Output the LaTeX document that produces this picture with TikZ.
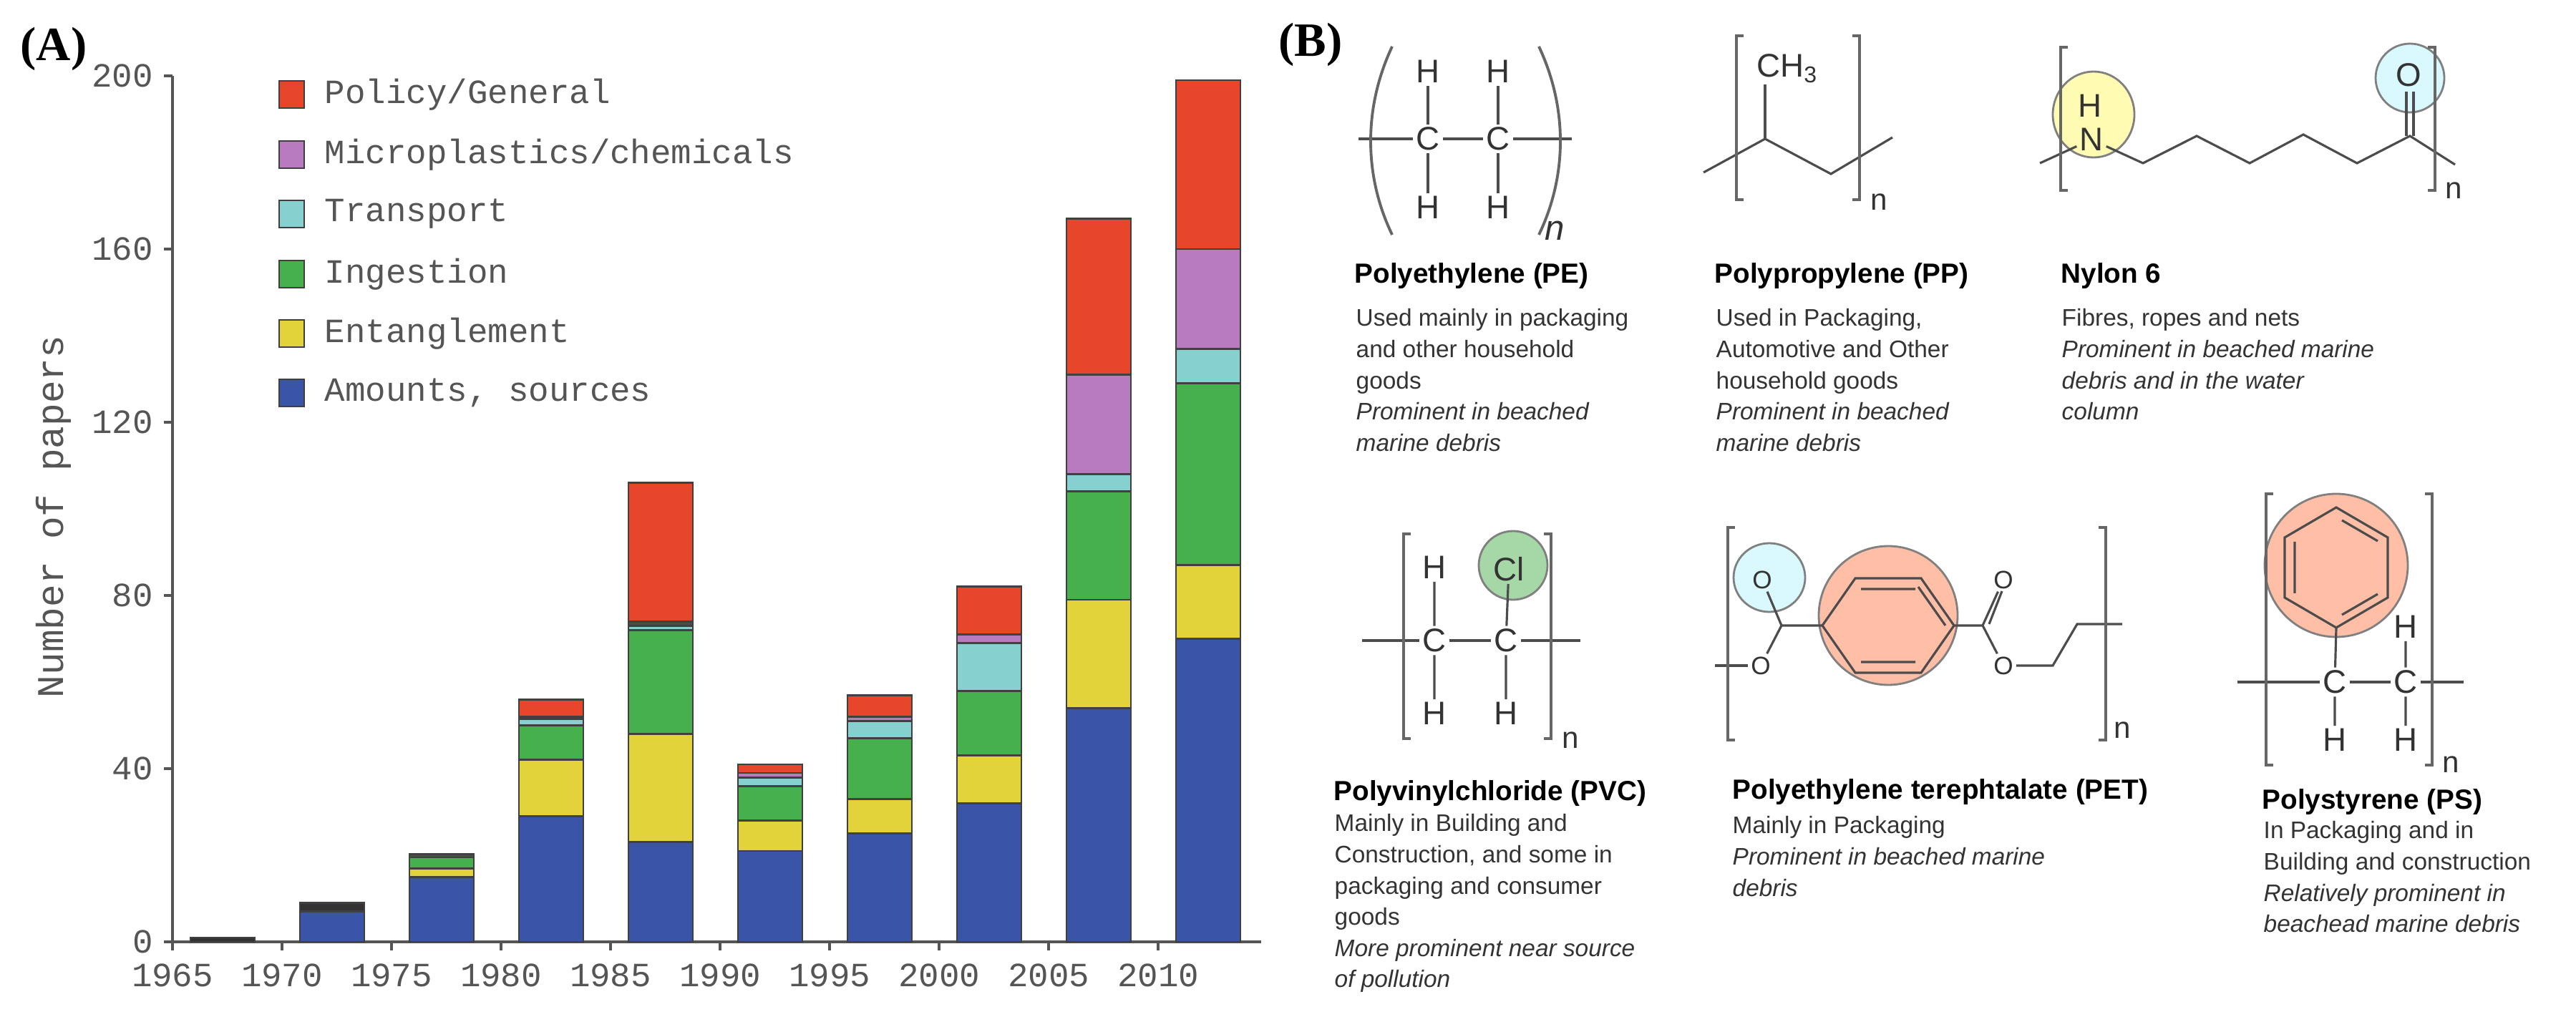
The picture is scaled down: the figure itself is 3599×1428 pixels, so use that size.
\documentclass[tikz,border=0pt]{standalone}
\usepackage{fontspec}
\setmainfont{Liberation Sans}
\newfontfamily\monof{Liberation Mono}
\newfontfamily\seriff{Liberation Serif}
\definecolor{cred}{HTML}{E8462A}
\definecolor{cpur}{HTML}{B97BC0}
\definecolor{ccyan}{HTML}{86D0D0}
\definecolor{cgreen}{HTML}{45B04C}
\definecolor{cyel}{HTML}{E2D33B}
\definecolor{cblue}{HTML}{3A55A8}
\definecolor{txt}{HTML}{555555}
\newcommand\seg[4]{\fill[#4,draw=black!75,line width=0.8pt] ({266+153*#1},{1316-6.05*#2}) rectangle ({356+153*#1},{1316-6.05*#3});}
\tikzset{
 tick/.style={font=\monof\fontsize{13.5}{15}\selectfont,text=txt},
 leg/.style={font=\monof\fontsize{13.5}{15}\selectfont,text=txt,anchor=west,inner sep=0},
 atom/.style={font=\fontsize{13}{14}\selectfont,text=black!80,inner sep=1pt},
 sm/.style={font=\fontsize{10}{11}\selectfont,text=black!80,inner sep=1pt},
 bond/.style={draw=black!70,line width=0.9pt},
 brk/.style={draw=black!60,line width=1.1pt},
 ttl/.style={font=\bfseries\fontsize{11}{13}\selectfont,anchor=west,inner sep=0},
 desc/.style={font=\fontsize{9.5}{12.4}\selectfont,text=black!80,anchor=north west,align=left,inner sep=0},
}
\begin{document}
\begin{tikzpicture}[x=0.01cm,y=-0.01cm]
\useasboundingbox (0,0) rectangle (3599,1428);
% ---------- panel A ----------
\node[font=\seriff\bfseries\fontsize{19}{20}\selectfont] (la) at (75,68) {(A)};
\draw[txt,line width=1pt] (241,1316) -- (241,106);
\draw[txt,line width=1pt] (241,1316) -- (1762,1316);
\foreach \v in {0,40,80,120,160,200}{
 \draw[txt,line width=1pt] (229,{1316-6.05*\v}) -- (241,{1316-6.05*\v});
 \node[tick,anchor=east] (yt\v) at (226,{1316-6.05*\v}) {\v};}
\foreach \k in {0,...,9}{
 \draw[txt,line width=1pt] ({241+153*\k},1316) -- ({241+153*\k},1328);
 \pgfmathtruncatemacro\yr{1965+5*\k}
 \node[tick] (xt\k) at ({241+153*\k},1363) {\yr};}
\node[font=\monof\fontsize{15}{16}\selectfont,text=txt,rotate=90] (ylab) at (75,722) {Number of papers};
% bars
\seg{0}{0}{1}{black!80}
\seg{1}{0}{7}{cblue}\seg{1}{7}{9}{black!80}
\seg{2}{0}{15}{cblue}\seg{2}{15}{17}{cyel}\seg{2}{17}{19.5}{cgreen}\seg{2}{19.5}{20.3}{black!70}
\seg{3}{0}{29}{cblue}\seg{3}{29}{42}{cyel}\seg{3}{42}{50}{cgreen}\seg{3}{50}{51.5}{ccyan}\seg{3}{51.5}{52}{cpur}\seg{3}{52}{56}{cred}
\seg{4}{0}{23}{cblue}\seg{4}{23}{48}{cyel}\seg{4}{48}{72}{cgreen}\seg{4}{72}{73}{ccyan}\seg{4}{73}{74}{black!70}\seg{4}{74}{106}{cred}
\seg{5}{0}{21}{cblue}\seg{5}{21}{28}{cyel}\seg{5}{28}{36}{cgreen}\seg{5}{36}{38}{ccyan}\seg{5}{38}{39}{cpur}\seg{5}{39}{41}{cred}
\seg{6}{0}{25}{cblue}\seg{6}{25}{33}{cyel}\seg{6}{33}{47}{cgreen}\seg{6}{47}{51}{ccyan}\seg{6}{51}{52}{cpur}\seg{6}{52}{57}{cred}
\seg{7}{0}{32}{cblue}\seg{7}{32}{43}{cyel}\seg{7}{43}{58}{cgreen}\seg{7}{58}{69}{ccyan}\seg{7}{69}{71}{cpur}\seg{7}{71}{82}{cred}
\seg{8}{0}{54}{cblue}\seg{8}{54}{79}{cyel}\seg{8}{79}{104}{cgreen}\seg{8}{104}{108}{ccyan}\seg{8}{108}{131}{cpur}\seg{8}{131}{167}{cred}
\seg{9}{0}{70}{cblue}\seg{9}{70}{87}{cyel}\seg{9}{87}{129}{cgreen}\seg{9}{129}{137}{ccyan}\seg{9}{137}{160}{cpur}\seg{9}{160}{199}{cred}
% legend
\foreach \c/\t/\y [count=\i] in {cred/Policy\slash General/132,cpur/Microplastics\slash chemicals/216,ccyan/Transport/299,cgreen/Ingestion/383,cyel/Entanglement/466,cblue/{Amounts, sources}/549}{
 \fill[\c,draw=black!75,line width=0.8pt] (390,\y-19) rectangle (425,\y+19);
 \node[leg] (lg\i) at (453,\y) {\t};}
% ---------- panel B ----------
\node[font=\seriff\bfseries\fontsize{19}{20}\selectfont] (lb) at (1831,62) {(B)};
% PE
\node[atom] (pc1) at (1995,194) {C}; \node[atom] (pc2) at (2093,194) {C};
\node[atom] (ph1) at (1995,100) {H}; \node[atom] (ph2) at (2093,100) {H};
\node[atom] (ph3) at (1995,290) {H}; \node[atom] (ph4) at (2093,290) {H};
\coordinate (pl) at (1898,194); \coordinate (pr) at (2196,194);
\draw[bond] (pl) -- (pc1) -- (pc2) -- (pr);
\draw[bond] (pc1) -- (ph1) (pc1) -- (ph3) (pc2) -- (ph2) (pc2) -- (ph4);
\draw[brk] (1945,65) .. controls (1905,150) and (1905,245) .. (1945,328);
\draw[brk] (2150,65) .. controls (2190,150) and (2190,245) .. (2150,328);
\node[font=\itshape\fontsize{14}{15}\selectfont,text=black!80] (pn) at (2172,322) {n};
\node[ttl] (tpe) at (1892,386) {Polyethylene (PE)};
\node[desc] (dpe) at (1894,431) {Used mainly in packaging\\and other household\\goods\\\textit{Prominent in beached}\\\textit{marine debris}};
% PP
\node[atom] (ch3) at (2497,96) {CH\textsubscript{3}};
\coordinate (z1) at (2380,241); \coordinate (z2) at (2466,194); \coordinate (z3) at (2558,243); \coordinate (z4) at (2644,192);
\draw[bond] (z1) -- (z2) -- (z3) -- (z4);
\draw[bond] (z2) -- (2466,118);
\draw[brk] (2436,50) -- (2426,50) -- (2426,279) -- (2436,279);
\draw[brk] (2588,50) -- (2598,50) -- (2598,279) -- (2588,279);
\node[sm,font=\fontsize{12}{13}\selectfont] (ppn) at (2625,282) {n};
\node[ttl] (tpp) at (2395,386) {Polypropylene (PP)};
\node[desc] (dpp) at (2397,431) {Used in Packaging,\\Automotive and Other\\household goods\\\textit{Prominent in beached}\\\textit{marine debris}};
% Nylon 6
\fill[yellow!30,draw=black!50,line width=0.8pt] (2925,160) ellipse (57 and 60);
\fill[blue!15!cyan!15,draw=black!50,line width=0.8pt] (3367,109) circle (48);
\node[atom] (nh) at (2920,148) {H};
\node[atom] (nn) at (2922,195) {N};
\node[atom] (no) at (3365,105) {O};
\draw[bond] (2850,228) -- (nn) -- (2994,228) -- (3069,190) -- (3143,228) -- (3218,188) -- (3293,228) -- (3367,190) -- (3430,230);
\draw[bond] (3362,190) -- (3362,128); \draw[bond] (3372,190) -- (3372,128);
\draw[brk] (2889,66) -- (2879,66) -- (2879,266) -- (2889,266);
\draw[brk] (3392,66) -- (3402,66) -- (3402,266) -- (3392,266);
\node[sm,font=\fontsize{12}{13}\selectfont] (nyn) at (3428,266) {n};
\node[ttl] (tny) at (2879,386) {Nylon 6};
\node[desc] (dny) at (2880,431) {Fibres, ropes and nets\\\textit{Prominent in beached marine}\\\textit{debris and in the water}\\\textit{column}};
% PVC
\fill[green!55!black!35,draw=black!50,line width=0.8pt] (2114,790) circle (48);
\node[atom] (vc1) at (2004,895) {C}; \node[atom] (vc2) at (2104,895) {C};
\node[atom] (vh1) at (2004,793) {H}; \node[atom] (vcl) at (2108,795) {Cl};
\node[atom] (vh3) at (2004,997) {H}; \node[atom] (vh4) at (2104,997) {H};
\coordinate (vl) at (1903,895); \coordinate (vr) at (2208,895);
\draw[bond] (vl) -- (vc1) -- (vc2) -- (vr);
\draw[bond] (vc1) -- (vh1) (vc1) -- (vh3) (vc2) -- (vcl) (vc2) -- (vh4);
\draw[brk] (1971,746) -- (1961,746) -- (1961,1032) -- (1971,1032);
\draw[brk] (2157,746) -- (2167,746) -- (2167,1032) -- (2157,1032);
\node[sm,font=\fontsize{12}{13}\selectfont] (vn) at (2194,1034) {n};
\node[ttl] (tpvc) at (1863,1108) {Polyvinylchloride (PVC)};
\node[desc] (dpvc) at (1864,1137) {Mainly in Building and\\Construction, and some in\\packaging and consumer\\goods\\\textit{More prominent near source}\\\textit{of pollution}};
% PET
\fill[blue!15!cyan!15,draw=black!50,line width=0.8pt] (2472,807) ellipse (50 and 48);
\fill[red!45!orange!35,draw=black!50,line width=0.8pt] (2638,860) circle (97);
\coordinate (ra) at (2546,874); \coordinate (rb) at (2592,808); \coordinate (rc) at (2684,808);
\coordinate (rd) at (2730,874); \coordinate (re) at (2684,940); \coordinate (rf) at (2592,940);
\draw[bond] (ra) -- (rb) -- (rc) -- (rd) -- (re) -- (rf) -- cycle;
\draw[bond] (2600,823) -- (2676,823) (2600,925) -- (2676,925) (2718,874) -- (2680,820);
\node[sm] (eo1) at (2462,810) {O}; \node[sm] (eo2) at (2460,930) {O};
\node[sm] (eo3) at (2799,810) {O}; \node[sm] (eo4) at (2799,930) {O};
\coordinate (ec1) at (2489,874); \coordinate (ec2) at (2770,874);
\draw[bond] (eo2) -- (ec1) -- (ra) (ec1) -- (eo1);
\draw[bond] (2396,930) -- (eo2);
\draw[bond] (rd) -- (ec2) -- (eo4) -- (2868,930) -- (2902,872) -- (2965,872);
\draw[bond] (ec2) -- (eo3); \draw[bond] (2779,872) -- (2797,826);
\draw[brk] (2424,737) -- (2414,737) -- (2414,1034) -- (2424,1034);
\draw[brk] (2932,737) -- (2942,737) -- (2942,1034) -- (2932,1034);
\node[sm,font=\fontsize{12}{13}\selectfont] (etn) at (2965,1020) {n};
\node[ttl] (tpet) at (2420,1106) {Polyethylene terephtalate (PET)};
\node[desc] (dpet) at (2420,1140) {Mainly in Packaging\\\textit{Prominent in beached marine}\\\textit{debris}};
% PS
\fill[red!45!orange!35,draw=black!50,line width=0.8pt] (3264,790) circle (100);
\coordinate (sa) at (3264,709); \coordinate (sb) at (3336,751); \coordinate (sc) at (3336,835);
\coordinate (sd) at (3264,877); \coordinate (se) at (3192,835); \coordinate (sf) at (3192,751);
\draw[bond] (sa) -- (sb) -- (sc) -- (sd) -- (se) -- (sf) -- cycle;
\draw[bond] (3272,727) -- (3322,756) (3322,830) -- (3272,859) (3206,757) -- (3206,829);
\node[atom] (sc1) at (3262,953) {C}; \node[atom] (sc2) at (3361,953) {C};
\node[atom] (sh2) at (3361,876) {H};
\node[atom] (sh3) at (3262,1034) {H}; \node[atom] (sh4) at (3361,1034) {H};
\draw[bond] (3126,953) -- (sc1) -- (sc2) -- (3442,953);
\draw[bond] (sd) -- (sc1) (sc1) -- (sh3) (sc2) -- (sh2) (sc2) -- (sh4);
\draw[brk] (3176,690) -- (3166,690) -- (3166,1069) -- (3176,1069);
\draw[brk] (3388,690) -- (3398,690) -- (3398,1069) -- (3388,1069);
\node[sm,font=\fontsize{12}{13}\selectfont] (psn) at (3424,1068) {n};
\node[ttl] (tps) at (3160,1120) {Polystyrene (PS)};
\node[desc] (dps) at (3162,1147) {In Packaging and in\\Building and construction\\\textit{Relatively prominent in}\\\textit{beachead marine debris}};
\end{tikzpicture}
\end{document}
